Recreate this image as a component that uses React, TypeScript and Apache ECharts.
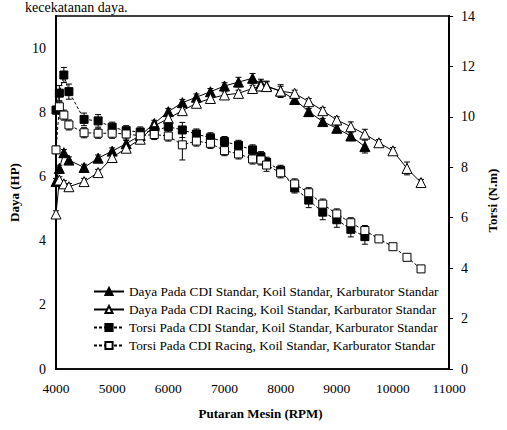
import React, { useEffect, useRef } from "react";
import * as echarts from "echarts";

const rpmStd = [4000, 4060, 4140, 4230, 4500, 4750, 5000, 5250, 5500, 5750, 6000, 6250, 6500, 6750, 7000, 7250, 7500, 7650, 7750, 8000, 8250, 8500, 8750, 9000, 9250, 9500];
const rpmRacing = [4000, 4060, 4140, 4230, 4500, 4750, 5000, 5250, 5500, 5750, 6000, 6250, 6500, 6750, 7000, 7250, 7500, 7650, 7750, 8000, 8250, 8500, 8750, 9000, 9250, 9500, 9750, 10000, 10250, 10500];

const dayaStd = [5.84, 6.25, 6.74, 6.51, 6.28, 6.57, 6.79, 7.02, 7.28, 7.65, 8.02, 8.3, 8.47, 8.64, 8.82, 8.94, 9.06, 8.88, 8.82, 8.66, 8.4, 8.02, 7.71, 7.5, 7.26, 6.93];
const dayaRacing = [4.83, 5.89, 5.77, 5.68, 5.84, 6.12, 6.59, 6.88, 7.16, 7.57, 7.81, 8.05, 8.28, 8.43, 8.54, 8.59, 8.74, 8.82, 8.8, 8.66, 8.59, 8.33, 8.05, 7.76, 7.55, 7.32, 7.05, 6.8, 6.25, 5.81];
const torsiStd = [10.27, 10.94, 11.66, 11.0, 9.9, 9.84, 9.59, 9.45, 9.4, 9.45, 9.61, 9.48, 9.32, 9.17, 9.02, 8.87, 8.69, 8.42, 8.2, 7.88, 7.18, 6.7, 6.22, 5.92, 5.54, 5.25];
const torsiRacing = [8.69, 10.4, 10.07, 9.68, 9.37, 9.35, 9.35, 9.32, 9.25, 9.3, 9.24, 8.89, 9.04, 8.95, 8.66, 8.53, 8.33, 8.29, 8.09, 7.78, 7.34, 6.99, 6.54, 6.15, 5.8, 5.49, 5.16, 4.85, 4.43, 3.97];

const dayaStdErr = [0.1, 0.1, 0.1, 0.1, 0.1, 0.1, 0.1, 0.1, 0.1, 0.1, 0.1, 0.1, 0.1, 0.1, 0.1, 0.15, 0.15, 0.15, 0.15, 0.15, 0.1, 0.1, 0.1, 0.1, 0.1, 0.2];
const dayaRacingErr = [0.1, 0.1, 0.1, 0.1, 0.1, 0.1, 0.1, 0.1, 0.1, 0.1, 0.1, 0.1, 0.1, 0.1, 0.1, 0.1, 0.1, 0.15, 0.15, 0.2, 0.1, 0.1, 0.1, 0.1, 0.15, 0.15, 0.1, 0.1, 0.2, 0.1];
const torsiStdErr = [0.15, 0.3, 0.3, 0.3, 0.25, 0.25, 0.2, 0.2, 0.2, 0.2, 0.25, 0.3, 0.2, 0.2, 0.2, 0.2, 0.2, 0.2, 0.2, 0.2, 0.2, 0.3, 0.3, 0.3, 0.3, 0.3];
const torsiRacingErr = [0.15, 0.2, 0.2, 0.2, 0.2, 0.2, 0.2, 0.2, 0.2, 0.2, 0.2, 0.6, 0.2, 0.2, 0.2, 0.2, 0.2, 0.2, 0.25, 0.2, 0.2, 0.2, 0.2, 0.2, 0.2, 0.2, 0.1, 0.1, 0.1, 0.1];

const xTicks = [4000, 11000, 1000];
const leftTicks = [0, 11, 2];
const rightTicks = [0, 14, 2];

const names = [
  "Daya Pada CDI Standar, Koil Standar, Karburator Standar",
  "Daya Pada CDI Racing, Koil Standar, Karburator Standar",
  "Torsi Pada CDI Standar, Koil Standar, Karburator Standar",
  "Torsi Pada CDI Racing, Koil Standar, Karburator Standar",
];

const FONT = '"Liberation Serif", "Times New Roman", serif';

function pairs(xs: number[], ys: number[]) {
  return ys.map((y, i) => [xs[i], y]);
}
function triples(xs: number[], ys: number[], es: number[]) {
  return ys.map((y, i) => [xs[i], y, es[i]]);
}

function errRender(params: any, api: any) {
  const x = api.value(0);
  const y = api.value(1);
  const e = api.value(2);
  const top = api.coord([x, y + e]);
  const bot = api.coord([x, y - e]);
  const w = 3;
  const style = { stroke: "#000", lineWidth: 1 };
  return {
    type: "group",
    children: [
      { type: "line", shape: { x1: top[0], y1: top[1], x2: bot[0], y2: bot[1] }, style },
      { type: "line", shape: { x1: top[0] - w, y1: top[1], x2: top[0] + w, y2: top[1] }, style },
      { type: "line", shape: { x1: bot[0] - w, y1: bot[1], x2: bot[0] + w, y2: bot[1] }, style },
    ],
  };
}

export default function App() {
  const ref = useRef<HTMLDivElement>(null);
  useEffect(() => {
    if (!ref.current) return;
    const chart = echarts.init(ref.current, undefined, { renderer: "svg" });
    const errSeries = (data: any[], yAxisIndex: number) => ({
      type: "custom",
      renderItem: errRender,
      data,
      yAxisIndex,
      encode: { x: 0, y: 1 },
      z: 1,
      silent: true,
    });
    const lineSeries = (
      name: string,
      data: any[],
      yAxisIndex: number,
      symbol: string,
      size: number,
      filled: boolean,
      dashed: boolean
    ) => ({
      type: "line",
      name,
      data,
      yAxisIndex,
      symbol,
      symbolSize: size,
      showAllSymbol: true,
      z: 3,
      lineStyle: { color: "#000", width: 1, type: dashed ? [3, 2] : "solid" },
      itemStyle: { color: filled ? "#000" : "#fff", borderColor: "#000", borderWidth: 1 },
    });
    chart.setOption({
      animation: false,
      textStyle: { fontFamily: FONT, color: "#000" },
      graphic: [
        {
          type: "text",
          left: 25,
          top: 0,
          style: { text: "kecekatanan daya.", font: '14px "Liberation Serif", serif', fill: "#000" },
        },
      ],
      grid: {
        left: 56,
        right: 45,
        top: 16,
        bottom: 61,
        show: true,
        borderColor: "#000",
        borderWidth: 1.5,
        backgroundColor: "transparent",
      },
      legend: {
        orient: "vertical",
        left: 93,
        top: 285,
        padding: 0,
        itemGap: 5,
        itemWidth: 30,
        itemHeight: 9,
        data: names,
        textStyle: { fontFamily: FONT, fontSize: 13.3, color: "#000" },
      },
      xAxis: {
        type: "value",
        min: xTicks[0],
        max: xTicks[1],
        interval: xTicks[2],
        name: "Putaran Mesin (RPM)",
        nameLocation: "middle",
        nameGap: 38,
        nameTextStyle: { fontFamily: FONT, fontWeight: "bold", fontSize: 13, color: "#000", padding: [0, 0, 0, 16] },
        axisLine: { lineStyle: { color: "#000", width: 1.5 } },
        axisTick: { show: false },
        splitLine: { show: false },
        axisLabel: { fontFamily: FONT, fontSize: 13.5, color: "#000", margin: 12, formatter: (v: number) => String(v) },
      },
      yAxis: [
        {
          type: "value",
          min: leftTicks[0],
          max: leftTicks[1],
          interval: leftTicks[2],
          name: "Daya (HP)",
          nameLocation: "middle",
          nameGap: 30,
          nameRotate: 90,
          nameTextStyle: { fontFamily: FONT, fontWeight: "bold", fontSize: 13, color: "#000" },
          axisLine: { show: true, lineStyle: { color: "#000", width: 2 } },
          axisTick: { show: false },
          splitLine: { show: false },
          axisLabel: {
            fontFamily: FONT,
            fontSize: 14,
            color: "#000",
            margin: 10,
            formatter: (v: number) => (v % 2 === 0 ? String(v) : ""),
          },
        },
        {
          type: "value",
          position: "right",
          min: rightTicks[0],
          max: rightTicks[1],
          interval: rightTicks[2],
          name: "Torsi (N.m)",
          nameLocation: "middle",
          nameGap: 33,
          nameRotate: 90,
          nameTextStyle: { fontFamily: FONT, fontWeight: "bold", fontSize: 13, color: "#000", padding: [0, 16, 0, 0] },
          axisLine: { show: true, lineStyle: { color: "#000", width: 2 } },
          axisTick: { show: true, inside: false, length: 4, lineStyle: { color: "#000" } },
          splitLine: { show: false },
          axisLabel: { fontFamily: FONT, fontSize: 14, color: "#000", margin: 12 },
        },
      ],
      series: [
        errSeries(triples(rpmStd, dayaStd, dayaStdErr), 0),
        errSeries(triples(rpmRacing, dayaRacing, dayaRacingErr), 0),
        errSeries(triples(rpmStd, torsiStd, torsiStdErr), 1),
        errSeries(triples(rpmRacing, torsiRacing, torsiRacingErr), 1),
        lineSeries(names[0], pairs(rpmStd, dayaStd), 0, "triangle", 10, true, false),
        lineSeries(names[1], pairs(rpmRacing, dayaRacing), 0, "triangle", 10, false, false),
        lineSeries(names[2], pairs(rpmStd, torsiStd), 1, "rect", 8, true, true),
        lineSeries(names[3], pairs(rpmRacing, torsiRacing), 1, "rect", 8, false, true),
      ],
    });
    return () => chart.dispose();
  }, []);
  return (
    <div
      ref={ref}
      style={{ position: "absolute", left: 0, top: 0, width: 507, height: 430, background: "#fff" }}
    />
  );
}
